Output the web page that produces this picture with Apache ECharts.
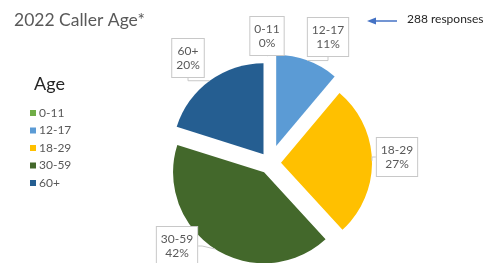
<!DOCTYPE html>
<html>
<head>
<meta charset="utf-8">
<script src="https://cdn.jsdelivr.net/npm/echarts@6/dist/echarts.min.js"></script>
<style>
	html, body { margin: 0; padding: 0; background: #ffffff; }
	#chart { width: 489px; height: 263px; }
</style>
</head>
<body>
<div id="chart"></div>
<script>
//Chart data
let age_groups = ["0-11", "12-17", "18-29", "30-59", "60+"];
let caller_counts = [0, 32, 78, 120, 58];
let slice_colours = ["#70AD47", "#5B9BD5", "#FFC000", "#43682B", "#255E91"];
let response_note = "288 responses";

//Label box positions (centre x, y) per age group
let label_positions = [[267, 36], [328, 37], [397, 157], [177, 246], [188, 58]];

let font_family = "Lato, 'Noto Sans', sans-serif";
let pie_centre = [270, 163];
let pie_radius = 91;
let total = caller_counts.reduce((a, b) => a + b, 0);

//Slice groups and how far each is pulled out of the pie
let slice_groups = [
	{ indices: [2, 3, 4], offset: 11 },
	{ indices: [0, 1], offset: 18 }
];

function buildSliceSeries (group) {
	//Return statement
	return {
		type: "pie",
		center: pie_centre,
		radius: pie_radius,
		startAngle: 90,
		clockwise: true,
		selectedMode: "multiple",
		selectedOffset: group.offset,
		silent: true,
		animation: false,
		itemStyle: { borderWidth: 0 },
		label: { show: false },
		labelLine: { show: false },
		data: age_groups.map((name, i) => ({
			name: name,
			value: caller_counts[i],
			selected: true,
			itemStyle: {
				color: slice_colours[i],
				opacity: (group.indices.includes(i)) ? 1 : 0
			}
		}))
	};
}

function buildLabelSeries (group) {
	//Invisible copy of the pie whose outer edge sits on the pulled-out slices
	return {
		type: "pie",
		center: pie_centre,
		radius: pie_radius + group.offset,
		startAngle: 90,
		clockwise: true,
		silent: true,
		animation: false,
		avoidLabelOverlap: false,
		z: 5,
		itemStyle: { borderWidth: 0, color: "rgba(0,0,0,0)" },
		label: {
			formatter: (params) => `${params.name}\n${Math.round(params.value/total*100)}%`,
			fontFamily: font_family,
			fontSize: 12,
			lineHeight: 14,
			color: "#595959",
			opacity: 1,
			backgroundColor: "#ffffff",
			borderColor: "#c8c8c8",
			borderWidth: 1,
			padding: [5, 4, 5, 4],
			align: "center"
		},
		labelLine: {
			length: 4,
			length2: 4,
			lineStyle: { color: "#c8c8c8", width: 1, opacity: 1 }
		},
		labelLayout: (params) => {
			let position = label_positions[params.dataIndex];
			return {
				x: position[0],
				y: position[1],
				align: "center",
				verticalAlign: "middle"
			};
		},
		data: age_groups.map((name, i) => {
			let is_visible = group.indices.includes(i);
			return {
				name: name,
				value: caller_counts[i],
				label: { show: is_visible },
				labelLine: { show: is_visible }
			};
		})
	};
}

let chart = echarts.init(document.getElementById("chart"), null, { renderer: "canvas" });

chart.setOption({
	animation: false,
	title: [{
		text: "2022 Caller Age*",
		left: 9,
		top: 6,
		textStyle: {
			fontFamily: font_family,
			fontSize: 17.5,
			fontWeight: "normal",
			color: "#595959"
		}
	}, {
		text: "Age",
		left: 29,
		top: 70,
		textStyle: {
			fontFamily: font_family,
			fontSize: 18,
			fontWeight: "normal",
			color: "#262626"
		}
	}],
	legend: {
		orient: "vertical",
		left: 25,
		top: 102,
		icon: "rect",
		itemWidth: 6,
		itemHeight: 6,
		itemGap: 5.5,
		selectedMode: false,
		textStyle: {
			fontFamily: font_family,
			fontSize: 12,
			color: "#595959",
			padding: [0, 0, 0, -2]
		},
		data: age_groups.map((name, i) => ({
			name: name,
			itemStyle: { color: slice_colours[i], opacity: 1 }
		}))
	},
	graphic: [{
		type: "line",
		shape: { x1: 374, y1: 21, x2: 397, y2: 21 },
		style: { stroke: "#4472C4", lineWidth: 1.5 }
	}, {
		type: "polygon",
		shape: { points: [[367, 21], [376, 17.5], [376, 24.5]] },
		style: { fill: "#4472C4" }
	}, {
		type: "text",
		left: 407,
		top: 13,
		style: {
			text: response_note,
			fontFamily: font_family,
			fontSize: 12,
			fill: "#262626"
		}
	}],
	series: [
		buildSliceSeries(slice_groups[0]),
		buildSliceSeries(slice_groups[1]),
		buildLabelSeries(slice_groups[0]),
		buildLabelSeries(slice_groups[1])
	]
});
</script>
</body>
</html>
